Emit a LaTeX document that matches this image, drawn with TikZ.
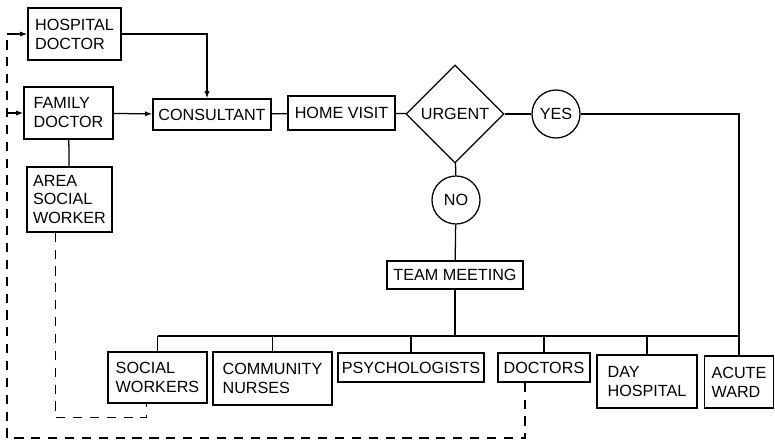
\documentclass[tikz,border=0pt]{standalone}
\usepackage{fontspec}
\setmainfont{Liberation Sans}
\usetikzlibrary{shapes.geometric,arrows.meta,positioning,calc}

\begin{document}
\begin{tikzpicture}[x=0.025cm, y=-0.025cm,
    box/.style={rectangle, draw=black, line width=0.9pt, fill=white,
                inner sep=2pt, align=left,
                font=\fontsize{11.5}{13.5}\selectfont},
    dec/.style={diamond, draw=black, line width=0.9pt, inner sep=0pt,
                minimum width=2.45cm, minimum height=2.45cm,
                font=\fontsize{11.5}{13.5}\selectfont},
    ans/.style={circle, draw=black, line width=0.9pt, inner sep=0pt,
                minimum size=1.2cm, font=\fontsize{11.5}{13.5}\selectfont},
    arr/.style={-{Latex[length=1.8mm,width=1.3mm]}, line width=0.9pt},
    ln/.style={line width=0.9pt},
    dashline/.style={line width=0.9pt, dash pattern=on 6.5pt off 5.5pt}
]
  \useasboundingbox (0,0) rectangle (775,440);

  % Referrers (left column)
  \node[box, minimum width=2.325cm, minimum height=1.3cm]   (hosp) at (74.5,34)  {HOSPITAL\\DOCTOR};
  \node[box, minimum width=2.225cm, minimum height=1.3cm]   (fam)  at (68.5,113) {FAMILY\\DOCTOR};
  \node[box, minimum width=2.125cm, minimum height=1.625cm] (asw)  at (69.5,199.5) {AREA\\SOCIAL\\WORKER};

  % Assessment row
  \node[box, minimum width=2.95cm, minimum height=0.775cm]  (cons) at (212,114.5) {CONSULTANT};
  \node[box, minimum width=2.675cm, minimum height=0.85cm]  (home) at (341.5,113) {HOME VISIT};
  \node[dec] (urgent) at (455,114) {URGENT};
  \node[ans] (yes) at (556,114) {YES};
  \node[ans] (no)  at (456,200) {NO};
  \node[box, minimum width=3.4cm, minimum height=0.7cm] (team) at (455,275) {TEAM MEETING};

  % Services (bottom row)
  \node[box, minimum width=2.475cm, minimum height=1.275cm] (sw)    at (157.5,377.5) {SOCIAL\\WORKERS};
  \node[box, minimum width=2.975cm, minimum height=1.325cm] (cn)    at (272.5,378.5) {COMMUNITY\\NURSES};
  \node[box, minimum width=3.65cm, minimum height=0.725cm]  (psy)   at (411,367.5) {PSYCHOLOGISTS};
  \node[box, minimum width=2.3cm, minimum height=0.725cm]   (doc)   at (544,367.5) {DOCTORS};
  \node[box, minimum width=2.5cm, minimum height=1.325cm]   (day)   at (647,381.5) {DAY\\HOSPITAL};
  \node[box, minimum width=1.725cm, minimum height=1.3cm]   (acute) at (739,382)   {ACUTE\\WARD};

  \coordinate (bus)  at (0,336);
  \coordinate (loop) at (7,438);

  % Referral arrows
  \draw[arr] (hosp.east) -| ($(cons.north)+(-5,0)$);
  \draw[arr] (fam) -- (cons);
  \draw[ln] (fam) -- (asw);
  \draw[ln] (cons) -- (home);
  \draw[ln] (home) -- (urgent);
  \draw[ln] (urgent) -- (yes);
  \draw[ln] (urgent) -- (no);
  \draw[ln] (no) -- (team);

  % Distribution bus
  \draw[ln] (yes.east) -| (acute.north);
  \draw[ln] (team.south) -- (team.south |- bus);
  \draw[ln] (sw.north |- bus) -- (acute.north |- bus);
  \foreach \n in {sw,cn,psy,doc,day}
    \draw[ln] (\n.north) -- (\n.north |- bus);

  % Feedback loops (dashed)
  \draw[dashline] ($(asw.south)+(-14,0)$) -- ++(0,185) -| ($(sw.south)+(-11,0)$);
  \draw[dashline] ($(doc.south)+(-19,0)$) |- (loop) -- (loop |- hosp.west);
  \draw[arr] (loop |- hosp.west) -- (hosp.west);
  \draw[arr] (loop |- fam.west) -- (fam.west);
\end{tikzpicture}
\end{document}
